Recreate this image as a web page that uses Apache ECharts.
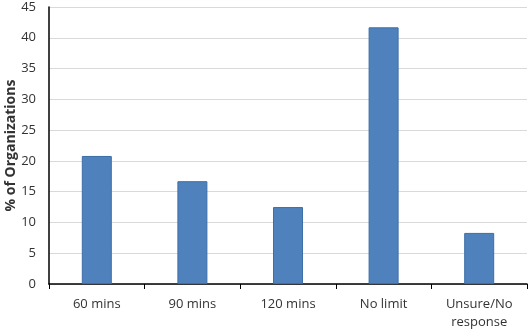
<!DOCTYPE html>
<html>
<head>
<meta charset="utf-8">
<script src="https://cdn.jsdelivr.net/npm/echarts@6/dist/echarts.min.js"></script>
<style>
  html, body { margin: 0; padding: 0; background: #fff; }
  #chart { width: 529px; height: 330px; }
</style>
</head>
<body>
<div id="chart"></div>
<script>
// Data
const categories = ['60 mins', '90 mins', '120 mins', 'No limit', 'Unsure/No\nresponse'];
const percentOrgs = [20.8, 16.7, 12.5, 41.7, 8.3];
const yTickStep = 5;
const yMax = 45;

const fontFamily = '"Open Sans", sans-serif';
const textColor = '#333';
const barColor = '#4F81BD';
const barBorder = '#3C6EA8';

const chart = echarts.init(document.getElementById('chart'), null, { renderer: 'canvas' });
chart.setOption({
  animation: false,
  grid: { left: 49, right: 2, top: 7, bottom: 46, containLabel: false, outerBoundsMode: 'none' },
  xAxis: {
    type: 'category',
    data: categories,
    axisLine: { show: true, lineStyle: { color: '#000', width: 1.5 } },
    axisTick: { show: true, length: 5, lineStyle: { color: '#000' } },
    axisLabel: { fontSize: 13, fontFamily, color: textColor, margin: 11, lineHeight: 18 },
  },
  yAxis: {
    type: 'value',
    min: 0, max: yMax, interval: yTickStep,
    name: '% of Organizations',
    nameLocation: 'middle',
    nameGap: 31,
    nameMoveOverlap: false,
    nameTextStyle: { fontSize: 14, fontWeight: 'bold', fontFamily, color: textColor },
    axisLine: { show: true, lineStyle: { color: '#000', width: 1.5 } },
    axisTick: { show: false },
    axisLabel: { fontSize: 13, fontFamily, color: textColor, margin: 13 },
    splitLine: { lineStyle: { color: '#D9D9D9', width: 1 } },
  },
  series: [{
    type: 'bar',
    data: percentOrgs,
    barWidth: 30,
    itemStyle: { color: barColor, borderColor: barBorder, borderWidth: 1 },
  }],
});
</script>
</body>
</html>
